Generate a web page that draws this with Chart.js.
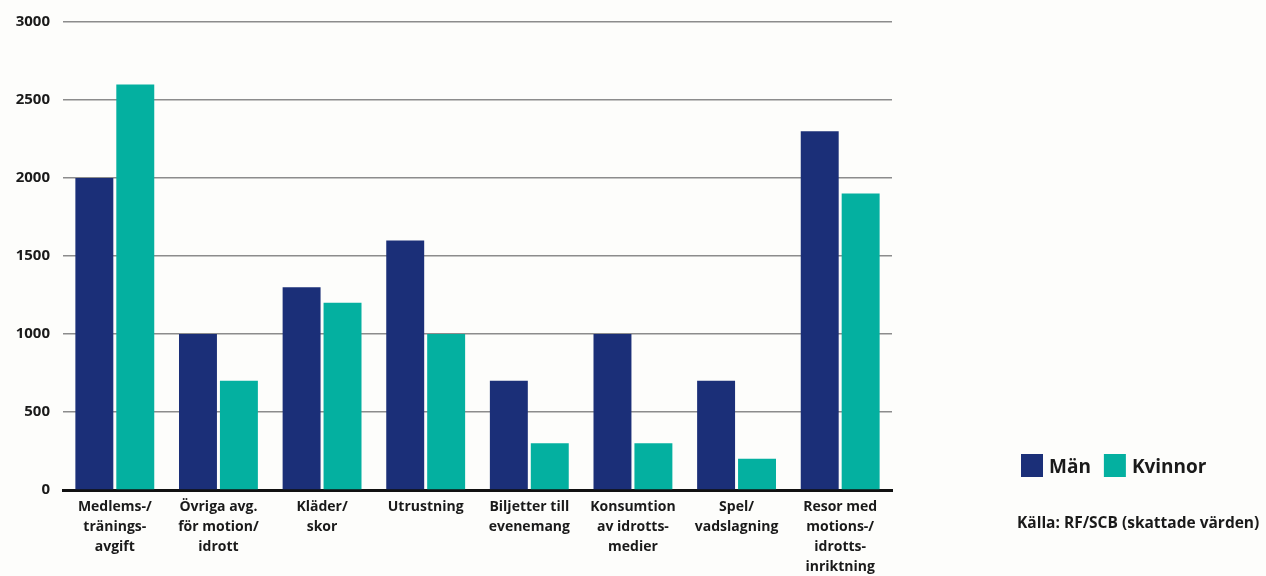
<!DOCTYPE html>
<html>
<head>
<meta charset="utf-8">
<script src="https://cdn.jsdelivr.net/npm/chart.js@4"></script>
<style>
  html, body { margin: 0; padding: 0; background: #fdfdfb; }
  #wrap { width: 1266px; height: 576px; position: relative; }
</style>
</head>
<body>
<div id="wrap"><canvas id="chart" width="1266" height="576"></canvas></div>
<script>
var categories = [
  ['Medlems-/', 'tränings-', 'avgift'],
  ['Övriga avg.', 'för motion/', 'idrott'],
  ['Kläder/', 'skor'],
  ['Utrustning'],
  ['Biljetter till', 'evenemang'],
  ['Konsumtion', 'av idrotts-', 'medier'],
  ['Spel/', 'vadslagning'],
  ['Resor med', 'motions-/', 'idrotts-', 'inriktning']
];
var man = [2000, 1000, 1300, 1600, 700, 1000, 700, 2300];
var kvinnor = [2600, 700, 1200, 1000, 300, 300, 200, 1900];
var seriesNames = ['Män', 'Kvinnor'];
var seriesColors = ['#1b2f78', '#04b0a0'];
var sourceText = 'Källa: RF/SCB (skattade värden)';

var FONT = "'Open Sans', sans-serif";

var sidePanel = {
  id: 'sidePanel',
  afterDraw(chart) {
    var ctx = chart.ctx;
    ctx.save();
    var x = 1021;
    chart.data.datasets.forEach((ds) => {
      ctx.fillStyle = ds.backgroundColor;
      ctx.fillRect(x, 454, 22, 23);
      ctx.fillStyle = '#1a1a1a';
      ctx.font = 'bold 19px ' + FONT;
      ctx.textBaseline = 'middle';
      ctx.fillText(ds.label, x + 28, 468);
      x += 28 + ctx.measureText(ds.label).width + 13;
    });
    ctx.font = 'bold 15.5px ' + FONT;
    ctx.fillText(sourceText, 1017, 524);
    ctx.restore();
  }
};

new Chart(document.getElementById('chart'), {
  type: 'bar',
  data: {
    labels: categories,
    datasets: [
      { label: seriesNames[0], data: man, backgroundColor: seriesColors[0] },
      { label: seriesNames[1], data: kvinnor, backgroundColor: seriesColors[1] }
    ]
  },
  options: {
    responsive: false,
    animation: false,
    layout: { padding: { top: 10, right: 374, bottom: 0, left: 0 } },
    datasets: { bar: { categoryPercentage: 0.79, barPercentage: 0.927 } },
    plugins: { legend: { display: false }, tooltip: { enabled: false } },
    scales: {
      x: {
        grid: { display: false },
        border: { color: '#111', width: 3 },
        ticks: {
          color: '#1a1a1a', maxRotation: 0, autoSkip: false, padding: -1,
          font: { family: FONT, size: 14, weight: 'bold', lineHeight: 1.43 }
        },
        afterFit(scale) { scale.height = 86; }
      },
      y: {
        min: 0, max: 3000,
        grid: { color: '#8c8c8c', lineWidth: 1.5, drawTicks: false },
        border: { display: false },
        ticks: {
          stepSize: 500, padding: 13, color: '#1a1a1a',
          font: { family: FONT, size: 15, weight: 'bold' },
          callback: (v) => String(v)
        },
        afterFit(scale) { scale.width = 63; }
      }
    }
  },
  plugins: [sidePanel]
});
</script>
</body>
</html>
